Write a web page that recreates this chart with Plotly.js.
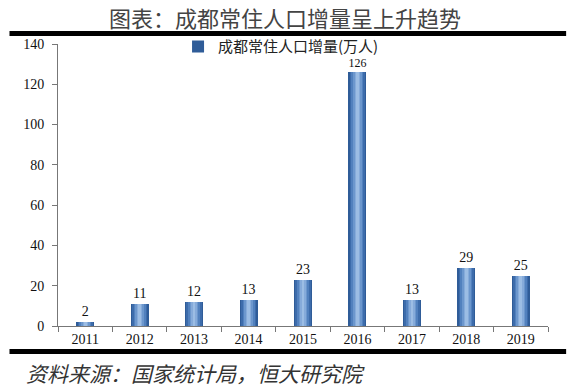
<!DOCTYPE html>
<html><head><meta charset="utf-8">
<script src="https://cdn.plot.ly/plotly-3.0.1.min.js"></script>
<style>html,body{margin:0;padding:0;background:#fff;}#chart{width:570px;height:387px;}</style>
</head><body><div id="chart"></div>
<script>
const years = ['2011','2012','2013','2014','2015','2016','2017','2018','2019'];
const increase = [2, 11, 12, 13, 23, 126, 13, 29, 25];
const seriesName = '成都常住人口增量(万人)';
const chartTitle = '图表：成都常住人口增量呈上升趋势';
const sourceText = '资料来源：国家统计局，恒大研究院';

const layers = [
  {w: 0.33, c: '#2F5C98'},
  {w: 0.28, c: '#3D6CAB'},
  {w: 0.22, c: '#5281BE'},
  {w: 0.16, c: '#6C97CD'},
  {w: 0.10, c: '#86ABDA'},
  {w: 0.05, c: '#9CBDE4'}
];
const serif = 'Liberation Serif, Times New Roman, serif';
const traces = layers.map((l, i) => ({
  type: 'bar', x: years, y: increase, width: l.w,
  marker: {color: l.c, line: {width: 0}},
  name: seriesName, showlegend: i === 0,
  text: i === 0 ? increase.map(String) : undefined,
  textposition: i === 0 ? 'outside' : 'none',
  textfont: {family: serif, size: 14, color: '#111'},
  cliponaxis: false, hoverinfo: 'skip'
}));

const layout = {
  width: 570, height: 387,
  margin: {l: 58, r: 22, t: 44, b: 61},
  paper_bgcolor: '#fff', plot_bgcolor: '#fff',
  barmode: 'overlay', bargap: 0,
  title: {text: chartTitle, x: 0.5, xref: 'container', xanchor: 'center',
          y: 0.95, yref: 'container', yanchor: 'middle',
          font: {family: 'Noto Sans CJK SC', size: 22, color: '#444'}},
  xaxis: {type: 'category', tickson: 'boundaries', ticks: 'outside', ticklen: 5,
          tickcolor: '#777', showline: true, linecolor: '#777', linewidth: 1,
          showgrid: false, zeroline: false,
          tickfont: {family: serif, size: 14, color: '#111'}},
  yaxis: {range: [0, 140], dtick: 20, ticks: 'outside', ticklen: 5, tickcolor: '#777',
          showline: true, linecolor: '#777', linewidth: 1, showgrid: false, zeroline: false,
          ticklabelstandoff: 5,
          tickfont: {family: serif, size: 14, color: '#111'}},
  legend: {x: 0.245, xanchor: 'left', y: 0.99, yanchor: 'middle', bgcolor: 'rgba(0,0,0,0)',
           font: {family: 'Noto Sans CJK SC', size: 15, color: '#222'}, itemwidth: 30},
  shapes: [
    {type: 'rect', xref: 'paper', yref: 'paper', x0: -0.099, x1: 1.037, y0: 1.028, y1: 1.046,
     fillcolor: '#000', line: {width: 0}},
    {type: 'rect', xref: 'paper', yref: 'paper', x0: -0.099, x1: 1.037, y0: -0.0993, y1: -0.0816,
     fillcolor: '#000', line: {width: 0}}
  ],
  annotations: [
    {text: '<i>' + sourceText + '</i>', xref: 'paper', yref: 'paper', x: -0.069, y: -0.167,
     xanchor: 'left', yanchor: 'middle', showarrow: false,
     font: {family: 'Noto Sans CJK SC', size: 21, color: '#333'}}
  ]
};
Plotly.newPlot('chart', traces, layout, {staticPlot: true, displayModeBar: false});
</script></body></html>
